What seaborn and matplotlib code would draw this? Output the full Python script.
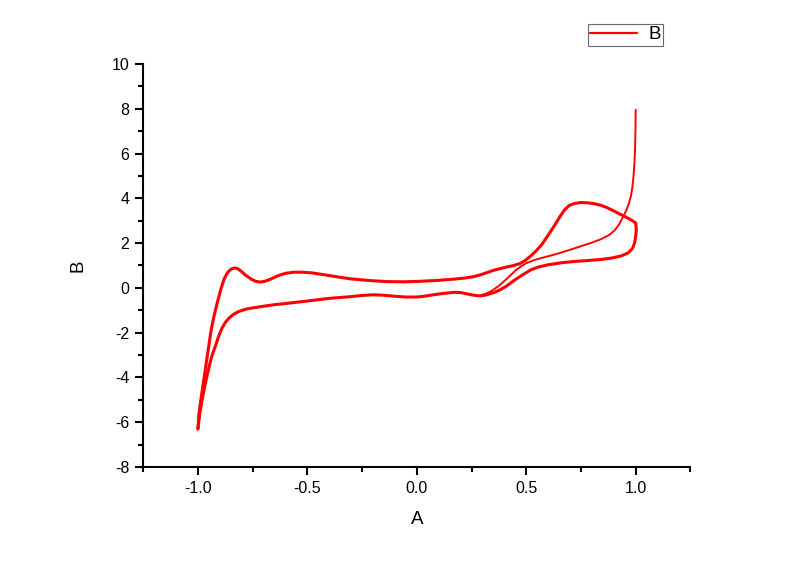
import matplotlib
matplotlib.use('Agg')
import matplotlib.pyplot as plt
import pandas as pd
import seaborn as sns
from matplotlib.ticker import MultipleLocator, FormatStrFormatter
from matplotlib.lines import Line2D

# first scan: starts at 1.0 with the high current, runs down to the lower branch
first_x = [1.0, 0.999, 0.997, 0.994, 0.99, 0.985, 0.978, 0.968, 0.958, 0.943, 0.925,
           0.905, 0.88, 0.843, 0.80, 0.75, 0.69, 0.63, 0.58, 0.536, 0.50, 0.475,
           0.45, 0.43, 0.405, 0.38, 0.355, 0.336, 0.31, 0.29]
first_y = [7.95, 7.0, 6.16, 5.5, 4.97, 4.5, 4.08, 3.75, 3.48, 3.18, 2.85,
           2.58, 2.37, 2.18, 2.02, 1.86, 1.67, 1.49, 1.36, 1.24, 1.10, 0.95,
           0.77, 0.58, 0.35, 0.13, -0.05, -0.17, -0.28, -0.34]

# forward (upper) branch, -1.0 -> 1.0
fwd_x = [-1.0, -0.995, -0.985, -0.97, -0.955, -0.94, -0.925, -0.91, -0.895, -0.88,
         -0.865, -0.848, -0.83, -0.815, -0.80, -0.78, -0.755, -0.735, -0.715, -0.695,
         -0.67, -0.635, -0.60, -0.56, -0.525, -0.48, -0.44, -0.40, -0.35, -0.30,
         -0.22, -0.14, -0.06, 0.01, 0.09, 0.17, 0.22, 0.26, 0.29, 0.32,
         0.35, 0.38, 0.41, 0.44, 0.47, 0.495, 0.52, 0.545, 0.57, 0.60,
         0.63, 0.655, 0.675, 0.695, 0.72, 0.75, 0.78, 0.81, 0.84, 0.87,
         0.905, 0.935, 0.965, 0.985, 1.0]
fwd_y = [-6.3, -5.6, -4.9, -3.9, -2.9, -1.9, -1.2, -0.6, -0.05, 0.4,
         0.68, 0.84, 0.89, 0.84, 0.72, 0.55, 0.38, 0.29, 0.26, 0.29,
         0.38, 0.54, 0.65, 0.70, 0.70, 0.67, 0.61, 0.55, 0.47, 0.40,
         0.33, 0.28, 0.27, 0.29, 0.33, 0.39, 0.44, 0.50, 0.58, 0.68,
         0.78, 0.86, 0.93, 0.99, 1.08, 1.22, 1.42, 1.65, 1.92, 2.35,
         2.8, 3.2, 3.48, 3.67, 3.77, 3.81, 3.80, 3.76, 3.69, 3.58,
         3.41, 3.26, 3.11, 3.0, 2.89]

# reverse (lower) branch, 1.0 -> -1.0
rev_x = [1.0, 1.003, 1.0, 0.995, 0.985, 0.965, 0.935, 0.89, 0.843, 0.78, 0.72,
         0.66, 0.60, 0.555, 0.52, 0.48, 0.44, 0.41, 0.38, 0.355, 0.33, 0.31,
         0.29, 0.26, 0.23, 0.20, 0.17, 0.12, 0.075, 0.03, 0.0, -0.05,
         -0.095, -0.15, -0.20, -0.25, -0.30, -0.40, -0.52, -0.60, -0.65, -0.70,
         -0.74, -0.78, -0.815, -0.84, -0.86, -0.875, -0.89, -0.905, -0.92, -0.935,
         -0.945, -0.96, -0.975, -0.99, -1.0]
rev_y = [2.89, 2.6, 2.3, 2.0, 1.75, 1.56, 1.43, 1.33, 1.27, 1.22, 1.18,
         1.12, 1.03, 0.93, 0.80, 0.56, 0.30, 0.08, -0.09, -0.20, -0.28, -0.33,
         -0.36, -0.33, -0.27, -0.21, -0.20, -0.25, -0.31, -0.38, -0.41, -0.41,
         -0.38, -0.33, -0.31, -0.34, -0.39, -0.47, -0.61, -0.70, -0.75, -0.82,
         -0.88, -0.95, -1.06, -1.2, -1.37, -1.55, -1.8, -2.15, -2.6, -3.0,
         -3.36, -4.0, -4.7, -5.5, -6.3]

sns.set_style('ticks')
plt.rcParams['font.family'] = ['Liberation Sans', 'DejaVu Sans']
plt.rcParams['axes.unicode_minus'] = False
plt.rcParams['lines.solid_joinstyle'] = 'round'
plt.rcParams['lines.solid_capstyle'] = 'round'
plt.rcParams['text.color'] = 'black'
plt.rcParams['axes.labelcolor'] = 'black'
plt.rcParams['xtick.color'] = 'black'
plt.rcParams['ytick.color'] = 'black'

fig = plt.figure(figsize=(8, 5.61), dpi=100)
ax = fig.add_axes([0.179, 0.1676, 0.684, 0.7184])

red = '#ff0000'
df_first = pd.DataFrame({'A': first_x, 'B': first_y})
df_fwd = pd.DataFrame({'A': fwd_x, 'B': fwd_y})
df_rev = pd.DataFrame({'A': rev_x, 'B': rev_y})

sns.lineplot(data=df_first, x='A', y='B', sort=False, estimator=None,
             color=red, linewidth=1.4, ax=ax)
sns.lineplot(data=df_rev, x='A', y='B', sort=False, estimator=None,
             color=red, linewidth=2.2, ax=ax)
sns.lineplot(data=df_fwd, x='A', y='B', sort=False, estimator=None,
             color=red, linewidth=2.2, ax=ax)

ax.set_xlim(-1.25, 1.25)
ax.set_ylim(-8, 10)
ax.xaxis.set_major_locator(MultipleLocator(0.5))
ax.xaxis.set_minor_locator(MultipleLocator(0.25))
ax.yaxis.set_major_locator(MultipleLocator(2))
ax.yaxis.set_minor_locator(MultipleLocator(1))
ax.xaxis.set_major_formatter(FormatStrFormatter('%.1f'))

ax.tick_params(which='major', direction='out', length=6, width=1.5,
               labelsize=11.5, color='black', labelcolor='black', pad=4)
ax.tick_params(which='minor', direction='out', length=3.5, width=1.5, color='black')
for side in ['left', 'bottom']:
    ax.spines[side].set_linewidth(1.5)
    ax.spines[side].set_color('black')
sns.despine(ax=ax)

ax.set_xlabel('A', fontsize=13.5, labelpad=11, color='black')
ax.set_ylabel('B', fontsize=13.5, labelpad=18, color='black')

handle = Line2D([], [], color=red, linewidth=1.6)
leg = fig.legend([handle], ['B'], loc='upper right',
                 bbox_to_anchor=(0.829, 0.957), fontsize=13.5,
                 frameon=True, fancybox=False, edgecolor='#444444',
                 handlelength=2.5, borderpad=0.12, handletextpad=0.6,
                 borderaxespad=0)
leg.get_frame().set_linewidth(0.8)

fig.savefig('out.png', dpi=100)
